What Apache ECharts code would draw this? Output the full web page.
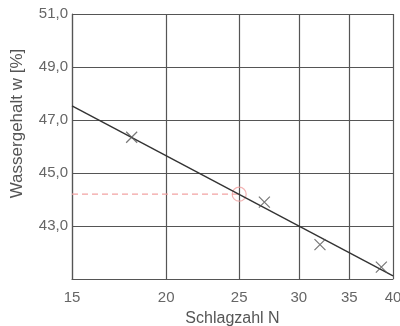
<!DOCTYPE html>
<html><head><meta charset="utf-8">
<script src="https://cdn.jsdelivr.net/npm/echarts@6/dist/echarts.min.js"></script>
<style>html,body{margin:0;padding:0;background:#fff}#c{width:400px;height:326px}</style>
</head><body><div id="c"></div>
<script>
const xTicks = [15, 20, 25, 30, 35, 40];
const measuredN = [18.0, 27.0, 32.0, 38.6];
const measuredW = [46.35, 43.9, 42.3, 41.45];
const fitN = [15, 40];
const fitW = [47.53, 41.12];
const readN = [15, 25];
const readW = [44.2, 44.2];
const yTitle = 'Wassergehalt w [%]';
const xTitle = 'Schlagzahl N';

const gridColor = '#555';
const textColor = '#666';
const font = 'Liberation Sans';
const chart = echarts.init(document.getElementById('c'), null, {renderer: 'canvas'});
chart.setOption({
  animation: false,
  grid: {left: 72, right: 7, top: 14, bottom: 47, outerBoundsMode: 'none', containLabel: false},
  xAxis: {
    type: 'log', min: 15, max: 40,
    name: xTitle, nameLocation: 'middle', nameGap: 32,
    nameTextStyle: {color: '#555', fontSize: 16, fontFamily: font},
    axisLine: {show: true, lineStyle: {color: gridColor, width: 1.2}},
    axisTick: {show: false, customValues: xTicks},
    axisLabel: {customValues: xTicks, color: textColor, fontSize: 15, fontFamily: font, margin: 11},
    splitLine: {show: true, lineStyle: {color: gridColor, width: 1.2}}
  },
  yAxis: {
    type: 'value', min: 41, max: 51, interval: 2,
    name: yTitle, nameLocation: 'middle', nameGap: 46,
    nameTextStyle: {color: '#555', fontSize: 17, fontFamily: font, padding: [0, 0, 0, 46]},
    axisLine: {show: true, lineStyle: {color: gridColor, width: 1.2}},
    axisTick: {show: false},
    axisLabel: {color: textColor, fontSize: 15, fontFamily: font, margin: 4,
      formatter: v => v <= 41 ? '' : v.toFixed(1).replace('.', ',')},
    splitLine: {show: true, lineStyle: {color: gridColor, width: 1.2}}
  },
  series: [
    {type: 'line', data: readN.map((n, i) => [n, readW[i]]), symbol: 'none',
     lineStyle: {color: '#f2a3a3', width: 1.3, type: [6, 4]}, z: 3},
    {type: 'scatter', data: [[readN[1], readW[1]]], symbol: 'circle', symbolSize: 14,
     itemStyle: {color: 'rgba(0,0,0,0)', borderColor: '#f0a0a0', borderWidth: 1.2}, z: 4},
    {type: 'line', data: fitN.map((n, i) => [n, fitW[i]]), symbol: 'none',
     lineStyle: {color: '#333', width: 1.4}, z: 5},
    {type: 'scatter', data: measuredN.map((n, i) => [n, measuredW[i]]),
     symbol: 'path://M0,0L10,10M10,0L0,10', symbolSize: 11,
     itemStyle: {color: 'rgba(0,0,0,0)', borderColor: '#555', borderWidth: 1.2}, z: 6}
  ]
});
</script></body></html>
